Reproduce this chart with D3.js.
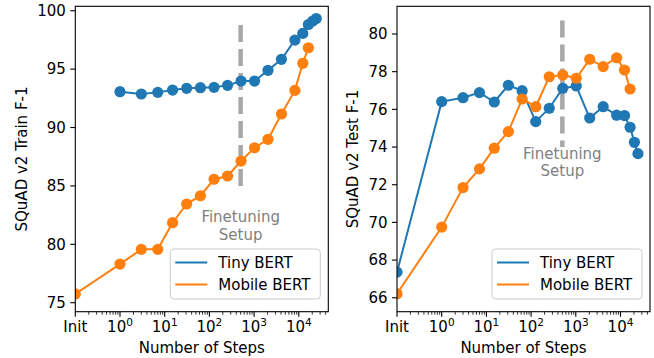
<!DOCTYPE html>
<html>
<head>
<meta charset="utf-8">
<script src="https://cdn.jsdelivr.net/npm/d3@7"></script>
<style>
  html, body { margin: 0; padding: 0; background: #fff; }
  svg { display: block; font-family: "DejaVu Sans", sans-serif; }
</style>
</head>
<body>
<svg id="chart" width="654" height="358"></svg>
<script>
// Training steps (Init is drawn at the left edge of the log axis)
const stepsFull = [1, 3, 7, 15, 31, 63, 127, 255, 511, 1023, 2047, 4095, 8191, 12288, 16384, 20480, 24576];
const stepsMobile = [1, 3, 7, 15, 31, 63, 127, 255, 511, 1023, 2047, 4095, 8191, 12288, 16384];
const finetuneStep = 500;

// SQuAD v2 train F-1
const tinyTrain = [93.07, 92.87, 93.01, 93.21, 93.36, 93.41, 93.44, 93.61, 93.98, 93.98, 94.90, 95.84, 97.49, 98.06, 98.82, 99.12, 99.33];
const mobileTrainInit = 75.75;
const mobileTrain = [78.31, 79.57, 79.57, 81.85, 83.45, 84.16, 85.57, 85.85, 87.13, 88.27, 88.99, 91.16, 93.18, 95.50, 96.83];

// SQuAD v2 test F-1
const tinyTestInit = 67.36;
const tinyTest = [76.41, 76.62, 76.89, 76.39, 77.28, 76.99, 75.35, 76.06, 77.12, 77.24, 75.54, 76.14, 75.69, 75.67, 75.05, 74.25, 73.65];
const mobileTestInit = 66.21;
const mobileTest = [69.75, 71.85, 72.84, 73.94, 74.82, 76.55, 76.14, 77.73, 77.82, 77.65, 78.66, 78.27, 78.74, 78.09, 77.08];

const trainTicks = [75, 80, 85, 90, 95, 100];
const testTicks = [66, 68, 70, 72, 74, 76, 78, 80];
const xTickExps = [0, 1, 2, 3, 4];
const seriesNames = ["Tiny BERT", "Mobile BERT"];
const colors = ["#1f77b4", "#ff7f0e"];

const INIT_X = 0.1;
const X_MAX = Math.pow(10, 4.66);
const FONT = 15;

const svg = d3.select("#chart");

function panel(opts) {
  const { left, right, top, bottom, yDomain, yTicks, yLabel, labelOffset, series, clipId, textY, dashTop, dashBottom } = opts;
  const x = d3.scaleLog().domain([INIT_X, X_MAX]).range([left, right]);
  const y = d3.scaleLinear().domain(yDomain).range([bottom, top]);

  svg.append("clipPath").attr("id", clipId)
    .append("rect").attr("x", left).attr("y", top)
    .attr("width", right - left).attr("height", bottom - top);

  const g = svg.append("g");

  // Finetuning marker
  g.append("line")
    .attr("x1", x(finetuneStep)).attr("x2", x(finetuneStep))
    .attr("y1", dashTop).attr("y2", dashBottom)
    .attr("stroke", "#a8a8a8").attr("stroke-width", 4.5)
    .attr("stroke-dasharray", "17,7");
  const ft = g.append("text")
    .attr("x", x(finetuneStep)).attr("y", textY)
    .attr("text-anchor", "middle").attr("fill", "#808080")
    .attr("font-size", FONT);
  ft.append("tspan").attr("x", x(finetuneStep)).text("Finetuning");
  ft.append("tspan").attr("x", x(finetuneStep)).attr("dy", 17.5).text("Setup");

  // Lines and markers
  const plot = g.append("g").attr("clip-path", `url(#${clipId})`);
  const line = d3.line().x(d => x(d[0])).y(d => y(d[1]));
  series.forEach((pts, i) => {
    plot.append("path").datum(pts)
      .attr("d", line).attr("fill", "none")
      .attr("stroke", colors[i]).attr("stroke-width", 2);
    plot.selectAll(null).data(pts).enter().append("circle")
      .attr("cx", d => x(d[0])).attr("cy", d => y(d[1])).attr("r", 5.6)
      .attr("fill", colors[i]);
  });

  // Frame
  g.append("rect").attr("x", left).attr("y", top)
    .attr("width", right - left).attr("height", bottom - top)
    .attr("fill", "none").attr("stroke", "#000").attr("stroke-width", 1.1);

  // Y axis
  yTicks.forEach(t => {
    const yy = y(t);
    g.append("line").attr("x1", left - 5).attr("x2", left).attr("y1", yy).attr("y2", yy)
      .attr("stroke", "#000").attr("stroke-width", 1.1);
    g.append("text").attr("x", left - 9.5).attr("y", yy + 5.3)
      .attr("text-anchor", "end").attr("font-size", FONT).attr("fill", "#000").text(t);
  });

  // X axis: minor ticks
  for (let k = -1; k <= 4; k++) {
    for (let m = 2; m <= 9; m++) {
      const v = m * Math.pow(10, k);
      if (v > X_MAX) continue;
      g.append("line").attr("x1", x(v)).attr("x2", x(v)).attr("y1", bottom).attr("y2", bottom + 3)
        .attr("stroke", "#000").attr("stroke-width", 0.8);
    }
  }
  // X axis: major ticks
  const majors = [INIT_X].concat(xTickExps.map(e => Math.pow(10, e)));
  majors.forEach(v => {
    g.append("line").attr("x1", x(v)).attr("x2", x(v)).attr("y1", bottom).attr("y2", bottom + 5)
      .attr("stroke", "#000").attr("stroke-width", 1.1);
  });
  g.append("text").attr("x", x(INIT_X)).attr("y", bottom + 20)
    .attr("text-anchor", "middle").attr("font-size", FONT).text("Init");
  xTickExps.forEach(e => {
    const t = g.append("text").attr("x", x(Math.pow(10, e))).attr("y", bottom + 20)
      .attr("text-anchor", "middle").attr("font-size", FONT);
    t.append("tspan").text("10");
    t.append("tspan").attr("dy", -6).attr("font-size", 10.5).text(e);
  });

  // Axis labels
  g.append("text").attr("x", (left + right) / 2).attr("y", 353)
    .attr("text-anchor", "middle").attr("font-size", FONT).text("Number of Steps");
  g.append("text")
    .attr("transform", `translate(${left - labelOffset},${(top + bottom) / 2}) rotate(-90)`)
    .attr("text-anchor", "middle").attr("dy", "0.35em").attr("font-size", FONT).text(yLabel);

  // Legend
  const lx = right - 158, ly = 249;
  g.append("rect").attr("x", lx).attr("y", ly).attr("width", 150).attr("height", 50)
    .attr("rx", 3.5).attr("fill", "#fff").attr("fill-opacity", 0.8)
    .attr("stroke", "#cccccc").attr("stroke-width", 1);
  seriesNames.forEach((name, i) => {
    const ry = ly + 13.5 + i * 22;
    g.append("line").attr("x1", lx + 5).attr("x2", lx + 37).attr("y1", ry).attr("y2", ry)
      .attr("stroke", colors[i]).attr("stroke-width", 2);
    g.append("text").attr("x", lx + 48).attr("y", ry + 5.4)
      .attr("font-size", FONT).text(name);
  });
}

const zipSteps = (steps, vals) => vals.map((v, i) => [steps[i], v]);

panel({
  left: 75.3, right: 328.3, top: 6.3, bottom: 311.7,
  yDomain: [74.23, 100.38], yTicks: trainTicks, yLabel: "SQuAD v2 Train F-1", labelOffset: 54,
  series: [
    zipSteps(stepsFull, tinyTrain),
    [[INIT_X, mobileTrainInit]].concat(zipSteps(stepsMobile, mobileTrain))
  ],
  clipId: "clipTrain", textY: 222, dashTop: 25, dashBottom: 188
});

panel({
  left: 397, right: 650, top: 6.3, bottom: 311.7,
  yDomain: [65.26, 81.47], yTicks: testTicks, yLabel: "SQuAD v2 Test F-1", labelOffset: 44,
  series: [
    [[INIT_X, tinyTestInit]].concat(zipSteps(stepsFull, tinyTest)),
    [[INIT_X, mobileTestInit]].concat(zipSteps(stepsMobile, mobileTest))
  ],
  clipId: "clipTest", textY: 158.5, dashTop: 20.5, dashBottom: 147
});
</script>
</body>
</html>
